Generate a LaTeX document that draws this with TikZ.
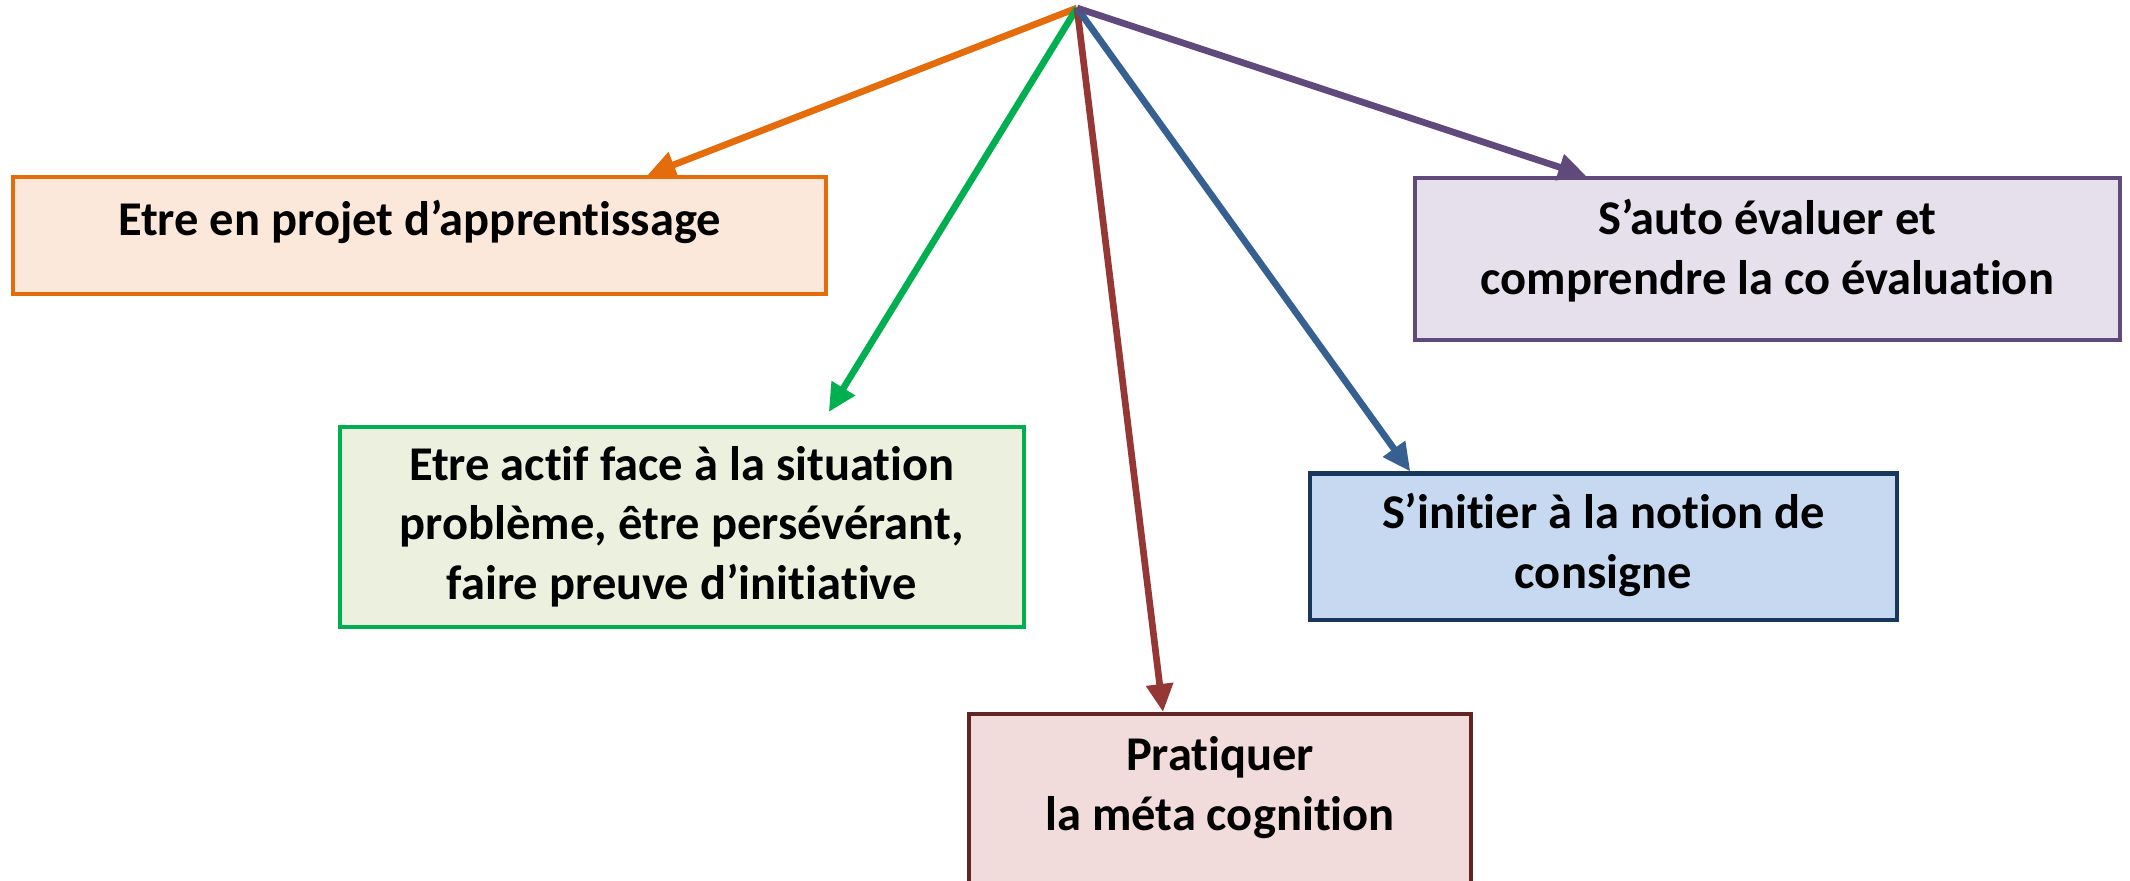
\documentclass[tikz,border=0pt]{standalone}
\usepackage{fontspec}
\setmainfont{Carlito}[Ligatures=NoCommon]
\usetikzlibrary{arrows.meta,calc}
\definecolor{orangeline}{HTML}{E46C0A}
\definecolor{orangefill}{HTML}{FCE8DA}
\definecolor{greenline}{HTML}{00B050}
\definecolor{greenfill}{HTML}{EBF1DE}
\definecolor{redline}{HTML}{632523}
\definecolor{redarrow}{HTML}{953735}
\definecolor{redfill}{HTML}{F2DCDB}
\definecolor{blueline}{HTML}{17375E}
\definecolor{bluearrow}{HTML}{376092}
\definecolor{bluefill}{HTML}{C6D9F1}
\definecolor{purpleline}{HTML}{604A7B}
\definecolor{purplefill}{HTML}{E5E0EC}
\tikzset{
	goalbox/.style={draw, rectangle, anchor=north west, inner ysep=0pt, align=center,
		line width=1.15pt, font=\fontsize{13.8pt}{16.9pt}\selectfont\bfseries},
	goalarrow/.style={line width=1.9pt, -{Triangle[length=2.8mm,width=2.6mm]}},
}

\begin{document}
\begin{tikzpicture}
		%%%%% START %%%%%
		\useasboundingbox (0, 0) rectangle (21.3, 8.8);
		
		\coordinate (top) at (10.77, 8.72);
		
		\node[goalbox, draw=orangeline, fill=orangefill, minimum width=8.13cm, text height=5.8mm, text depth=5.9mm] (projet) at (0.11, 7.05) {Etre en projet d’apprentissage};
		\node[goalbox, draw=greenline, fill=greenfill, minimum width=6.845cm, text height=17.2mm, text depth=2.8mm] (actif) at (3.375, 4.55) {Etre actif face à la situation\\problème, être persévérant,\\faire preuve d’initiative};
		\node[goalbox, draw=redline, fill=redfill, minimum width=5.02cm, text height=11.6mm, text depth=7.2mm] (meta) at (9.67, 1.68) {Pratiquer\\la méta cognition};
		\node[goalbox, draw=blueline, fill=bluefill, minimum width=5.875cm, text height=11.45mm, text depth=3.2mm] (consigne) at (13.075, 4.085) {S’initier à la notion de\\consigne};
		\node[goalbox, draw=purpleline, fill=purplefill, minimum width=7.045cm, text height=11.6mm, text depth=4.6mm] (evaluer) at (14.13, 7.04) {S’auto évaluer et\\comprendre la co évaluation};
		
		\draw[goalarrow, orangeline] (top) -- ([xshift=2.28cm]projet.north);
		\draw[goalarrow, greenline] (top) -- ([xshift=1.47cm, yshift=1.3mm]actif.north);
		\draw[goalarrow, redarrow] (top) -- ([xshift=-0.57cm]meta.north);
		\draw[goalarrow, bluearrow] (top) -- ([xshift=-1.93cm]consigne.north);
		\draw[goalarrow, purpleline] (top) -- ([xshift=-1.81cm]evaluer.north);
		
		%%%%% END %%%%%
	\end{tikzpicture}
\end{document}
